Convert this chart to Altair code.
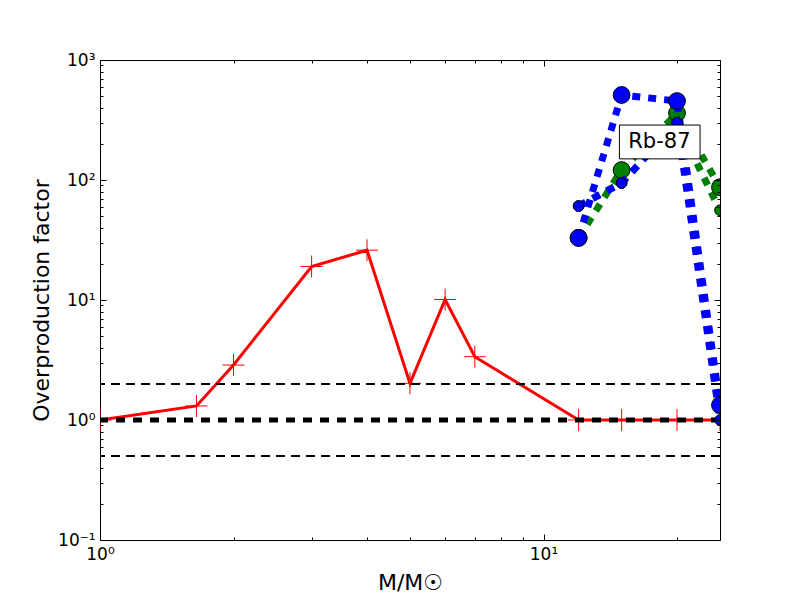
import altair as alt
import pandas as pd

# ---- data ----
red_mass = [1.0, 1.65, 2.0, 3.0, 4.0, 5.0, 6.0, 7.0, 12.0, 15.0, 20.0, 25.0]
red_factor = [1.0, 1.31, 2.87, 19.0, 26.0, 2.02, 10.1, 3.37, 1.0, 1.0, 1.0, 1.0]

massive_mass = [12.0, 15.0, 20.0, 25.0]
blue_big = [32.9, 511.0, 455.0, 1.33]
blue_small = [60.7, 94.4, 300.0, 1.0]
green_big = [33.0, 121.0, 361.0, 87.0]
green_small = [60.7, 94.4, 300.0, 56.0]

ref_thin = [0.5, 2.0]
ref_thick = [1.0]

label_text = ["Rb-87"]
label_mass = [18.25]
label_factor = [207.0]
box_mass = [14.83, 22.54]
box_factor = [150.0, 287.0]

x_major = [1, 10]
x_major_labels = ["10⁰", "10¹"]
x_ticks_all = [1, 2, 3, 4, 5, 6, 7, 8, 9, 10, 20]
y_major = [0.1, 1, 10, 100, 1000]
y_major_labels = ["10⁻¹", "10⁰", "10¹", "10²", "10³"]
y_ticks_all = [0.1, 0.2, 0.3, 0.4, 0.5, 0.6, 0.7, 0.8, 0.9,
               1, 2, 3, 4, 5, 6, 7, 8, 9,
               10, 20, 30, 40, 50, 60, 70, 80, 90,
               100, 200, 300, 400, 500, 600, 700, 800, 900, 1000]

FONT = "DejaVu Sans"
W, H = 620, 480


def label_expr(vals, labels):
    expr = "''"
    for v, l in reversed(list(zip(vals, labels))):
        expr = f"abs(datum.value - {v}) < {v * 1e-6} ? '{l}' : ({expr})"
    return expr


major_test = "abs(log(datum.value)/LN10 - round(log(datum.value)/LN10)) < 0.001"
tick_size = {"condition": {"test": major_test, "value": 6}, "value": 3}

xs = alt.Scale(type="log", domain=[1, 25], nice=False)
ys = alt.Scale(type="log", domain=[0.1, 1000], nice=False)

# label axes (no ticks)
x_lab = alt.Axis(orient="bottom", values=x_major, labelExpr=label_expr(x_major, x_major_labels),
                 ticks=False, domain=False, grid=False, labelFont=FONT, labelFontSize=17,
                 labelPadding=6, labelFlush=False, labelOverlap=False, labelColor="black",
                 title="M/M☉", titleFont=FONT, titleFontSize=22, titleFontWeight="normal",
                 titleColor="black", titlePadding=10)
y_lab = alt.Axis(orient="left", values=y_major, labelExpr=label_expr(y_major, y_major_labels),
                 ticks=False, domain=False, grid=False, labelFont=FONT, labelFontSize=17,
                 labelPadding=5, labelFlush=False, labelOverlap=False, labelColor="black",
                 title="Overproduction factor", titleFont=FONT, titleFontSize=22,
                 titleFontWeight="normal", titleColor="black", titlePadding=4)

# inward tick axes
def tick_axis(orient, offset, vals):
    return alt.Axis(orient=orient, offset=offset, values=vals, labels=False, domain=False,
                    grid=False, ticks=True, tickSize=tick_size, tickColor="black",
                    tickWidth=1, title=None, zindex=1)

x_in_bottom = tick_axis("top", -H, x_ticks_all)
x_in_top = tick_axis("bottom", -H, x_ticks_all)
y_in_left = tick_axis("right", -W, y_ticks_all)
y_in_right = tick_axis("left", -W, y_ticks_all)

red_df = pd.DataFrame({"mass": red_mass, "factor": red_factor})
bb_df = pd.DataFrame({"mass": massive_mass, "factor": blue_big})
bs_df = pd.DataFrame({"mass": massive_mass, "factor": blue_small})
gb_df = pd.DataFrame({"mass": massive_mass, "factor": green_big})
gs_df = pd.DataFrame({"mass": massive_mass, "factor": green_small})


def enc(chart, xaxis=None, yaxis=None):
    return chart.encode(
        x=alt.X("mass:Q", scale=xs, axis=xaxis),
        y=alt.Y("factor:Q", scale=ys, axis=yaxis),
    )


red_line = enc(alt.Chart(red_df).mark_line(color="#ff0000", strokeWidth=3, clip=True),
               x_lab, y_lab)
red_cross_h = enc(alt.Chart(red_df).mark_tick(orient="horizontal", size=22, thickness=1,
                                              color="#ff0000", opacity=1, clip=True),
                  x_in_bottom, y_in_left)
red_cross_v = enc(alt.Chart(red_df).mark_tick(orient="vertical", size=22, thickness=1,
                                              color="#ff0000", opacity=1, clip=True))

thin_rules = alt.Chart(pd.DataFrame({"factor": ref_thin})).mark_rule(
    color="black", strokeWidth=2, strokeDash=[9, 6]).encode(
    y=alt.Y("factor:Q", scale=ys, axis=None))
thick_rule = alt.Chart(pd.DataFrame({"factor": ref_thick})).mark_rule(
    color="black", strokeWidth=5, strokeDash=[9, 8]).encode(
    y=alt.Y("factor:Q", scale=ys, axis=None))


def dotted(df, color):
    return enc(alt.Chart(df).mark_line(color=color, strokeWidth=7, strokeDash=[8, 8],
                                       strokeCap="butt", clip=True))


def dots(df, color, size, xaxis=None, yaxis=None):
    return enc(alt.Chart(df).mark_circle(color=color, size=size, opacity=1, stroke="black",
                                         strokeWidth=1, clip=True), xaxis, yaxis)


box = alt.Chart(pd.DataFrame({"m1": [box_mass[0]], "m2": [box_mass[1]],
                              "f1": [box_factor[0]], "f2": [box_factor[1]]})).mark_rect(
    fill="white", stroke="black", strokeWidth=1).encode(
    x=alt.X("m1:Q", scale=xs, axis=None), x2="m2:Q",
    y=alt.Y("f1:Q", scale=ys, axis=None), y2="f2:Q")

label = alt.Chart(pd.DataFrame({"mass": label_mass, "factor": label_factor,
                                "text": label_text})).mark_text(
    font=FONT, fontSize=21, color="black", align="center", baseline="middle").encode(
    x=alt.X("mass:Q", scale=xs, axis=None), y=alt.Y("factor:Q", scale=ys, axis=None),
    text="text:N")

chart = alt.layer(
    red_line, red_cross_h, red_cross_v, thin_rules, thick_rule,
    dotted(gs_df, "#008000"), dotted(gb_df, "#008000"),
    dots(gb_df, "#008000", 283), dots(gs_df, "#008000", 113),
    dotted(bs_df, "#0000ff"), dotted(bb_df, "#0000ff"),
    dots(bb_df, "#0000ff", 283, x_in_top, y_in_right), dots(bs_df, "#0000ff", 113),
    box, label,
).resolve_axis(x="independent", y="independent").properties(
    width=W, height=H,
    autosize=alt.AutoSizeParams(type="none"),
    padding={"left": 92, "top": 52, "right": 64, "bottom": 60},
).configure_view(stroke="black", strokeWidth=1)

chart.save("out.html", embed_options={"renderer": "svg", "actions": False})
